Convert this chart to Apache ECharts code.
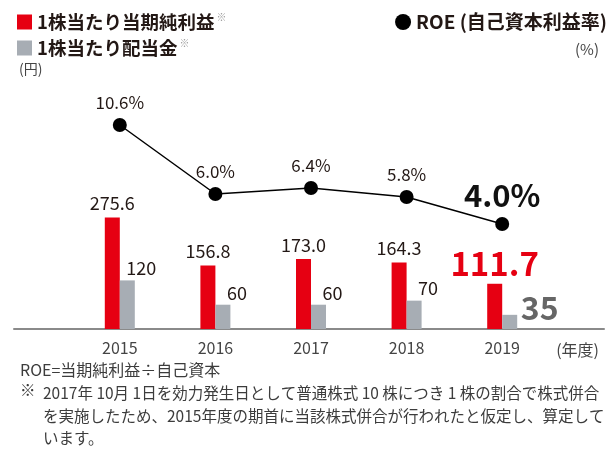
<!DOCTYPE html>
<html>
<head>
<meta charset="utf-8">
<script src="https://cdn.jsdelivr.net/npm/echarts@6/dist/echarts.min.js"></script>
<style>
  html, body { margin: 0; padding: 0; background: #fff; }
  #chart { width: 608px; height: 450px; }
</style>
</head>
<body>
<div id="chart"></div>
<script>
// Fiscal years and per-share figures
const years = ['2015', '2016', '2017', '2018', '2019'];
const epsValues = [275.6, 156.8, 173.0, 164.3, 111.7];   // 1株当たり当期純利益 (円)
const dpsValues = [120, 60, 60, 70, 35];                 // 1株当たり配当金 (円)
const roeValues = [10.6, 6.0, 6.4, 5.8, 4.0];            // ROE (%)

const epsName = '1株当たり当期純利益';
const dpsName = '1株当たり配当金';
const roeName = 'ROE (自己資本利益率)';

const noteFormula = 'ROE=当期純利益÷自己資本';
const noteLines = [
  '2017年 10月 1日を効力発生日として普通株式 10 株につき 1 株の割合で株式併合',
  'を実施したため、2015年度の期首に当該株式併合が行われたと仮定し、算定して',
  'います。'
];

const FONT = '"Noto Sans CJK JP", "Noto Sans", sans-serif';
const RED = '#e60012';
const GRAY = '#a7adb4';
const INK = '#231815';
const NOTE = '#3c3c3c';
const last = years.length - 1;

const chart = echarts.init(document.getElementById('chart'), null, { renderer: 'canvas' });

// The latest year is emphasised with larger figures
const epsData = epsValues.map((v, i) => i === last ? {
  value: v,
  label: { fontSize: 33, fontWeight: 'bold', color: RED, distance: 4 }
} : v);

const dpsData = dpsValues.map((v, i) => i === last ? {
  value: v,
  label: { fontSize: 32, fontWeight: 'bold', color: '#666', offset: [30, 12] }
} : v);

const roeData = roeValues.map((v, i) => i === last ? {
  value: v,
  label: { fontSize: 31, fontWeight: 'bold', color: '#111', distance: 6 }
} : v);

const plain = (size, extra) => Object.assign({ fontSize: size, fontWeight: 'normal', color: NOTE, fontFamily: FONT }, extra || {});

const option = {
  animation: false,
  textStyle: { fontFamily: FONT },
  title: [
    { text: '(円)', left: 14, top: 57, textStyle: plain(14, { color: '#444' }) },
    { text: '(%)', right: 4, top: 37, textStyle: plain(15, { color: '#444' }) },
    { text: '(年度)', right: 4, top: 337, textStyle: plain(16, { color: '#444' }) },
    { text: noteFormula, left: 15, top: 357, textStyle: plain(16) },
    { text: '※', left: 15, top: 377, textStyle: plain(15.5) },
    { text: noteLines.join('\n'), left: 38, top: 377, textStyle: plain(15.5, { lineHeight: 22.5 }) }
  ],
  legend: [
    {
      data: [epsName, dpsName],
      orient: 'vertical',
      left: 12,
      top: 7,
      icon: 'rect',
      itemWidth: 15,
      itemHeight: 15,
      itemGap: 6,
      selectedMode: false,
      formatter: name => name + '{s|※}',
      textStyle: {
        fontFamily: FONT, fontSize: 18.5, fontWeight: 'bold', color: INK, lineHeight: 20,
        rich: { s: { fontSize: 10, color: '#9a9a9a', verticalAlign: 'top', padding: [0, 0, 0, 2] } }
      }
    },
    {
      data: [roeName],
      right: -4,
      top: 7,
      icon: 'circle',
      itemWidth: 16,
      itemHeight: 16,
      itemGap: 0,
      selectedMode: false,
      textStyle: { fontFamily: FONT, fontSize: 19, fontWeight: 'bold', color: INK, lineHeight: 20 }
    }
  ],
  grid: [
    { left: 72, right: 58, top: 86, bottom: 121 },
    { left: 14, right: 4, top: 86, bottom: 121 }
  ],
  xAxis: [
    {
      type: 'category', gridIndex: 0, data: years,
      axisLine: { show: false }, axisTick: { show: false },
      axisLabel: { fontSize: 16, color: '#444', margin: 11, fontFamily: FONT }
    },
    {
      // full-width baseline under the plot
      type: 'category', gridIndex: 1, data: [''],
      axisLine: { show: true, lineStyle: { color: '#8a8a8a', width: 2 } },
      axisTick: { show: false }, axisLabel: { show: false }
    }
  ],
  yAxis: [
    { type: 'value', gridIndex: 0, min: 0, max: 600, show: false },
    { type: 'value', gridIndex: 0, min: -3, max: 13.2, show: false },
    { type: 'value', gridIndex: 1, show: false }
  ],
  series: [
    {
      name: epsName, type: 'bar', xAxisIndex: 0, yAxisIndex: 0,
      barWidth: 15, barGap: '0%',
      itemStyle: { color: RED },
      label: {
        show: true, position: 'top', distance: 5,
        fontSize: 18, color: INK, fontFamily: FONT,
        formatter: p => p.value.toFixed(1)
      },
      data: epsData
    },
    {
      name: dpsName, type: 'bar', xAxisIndex: 0, yAxisIndex: 0,
      barWidth: 15, barGap: '0%',
      itemStyle: { color: GRAY },
      label: {
        show: true, position: 'top', distance: 3, offset: [14, 0],
        fontSize: 18, color: INK, fontFamily: FONT
      },
      data: dpsData
    },
    {
      name: roeName, type: 'line', xAxisIndex: 0, yAxisIndex: 1,
      symbol: 'circle', symbolSize: 14,
      itemStyle: { color: '#000' },
      lineStyle: { color: '#000', width: 1.5 },
      label: {
        show: true, position: 'top', distance: 7,
        fontSize: 17, color: INK, fontFamily: FONT,
        formatter: p => p.value.toFixed(1) + '%'
      },
      z: 5,
      data: roeData
    }
  ]
};

chart.setOption(option);
</script>
</body>
</html>
